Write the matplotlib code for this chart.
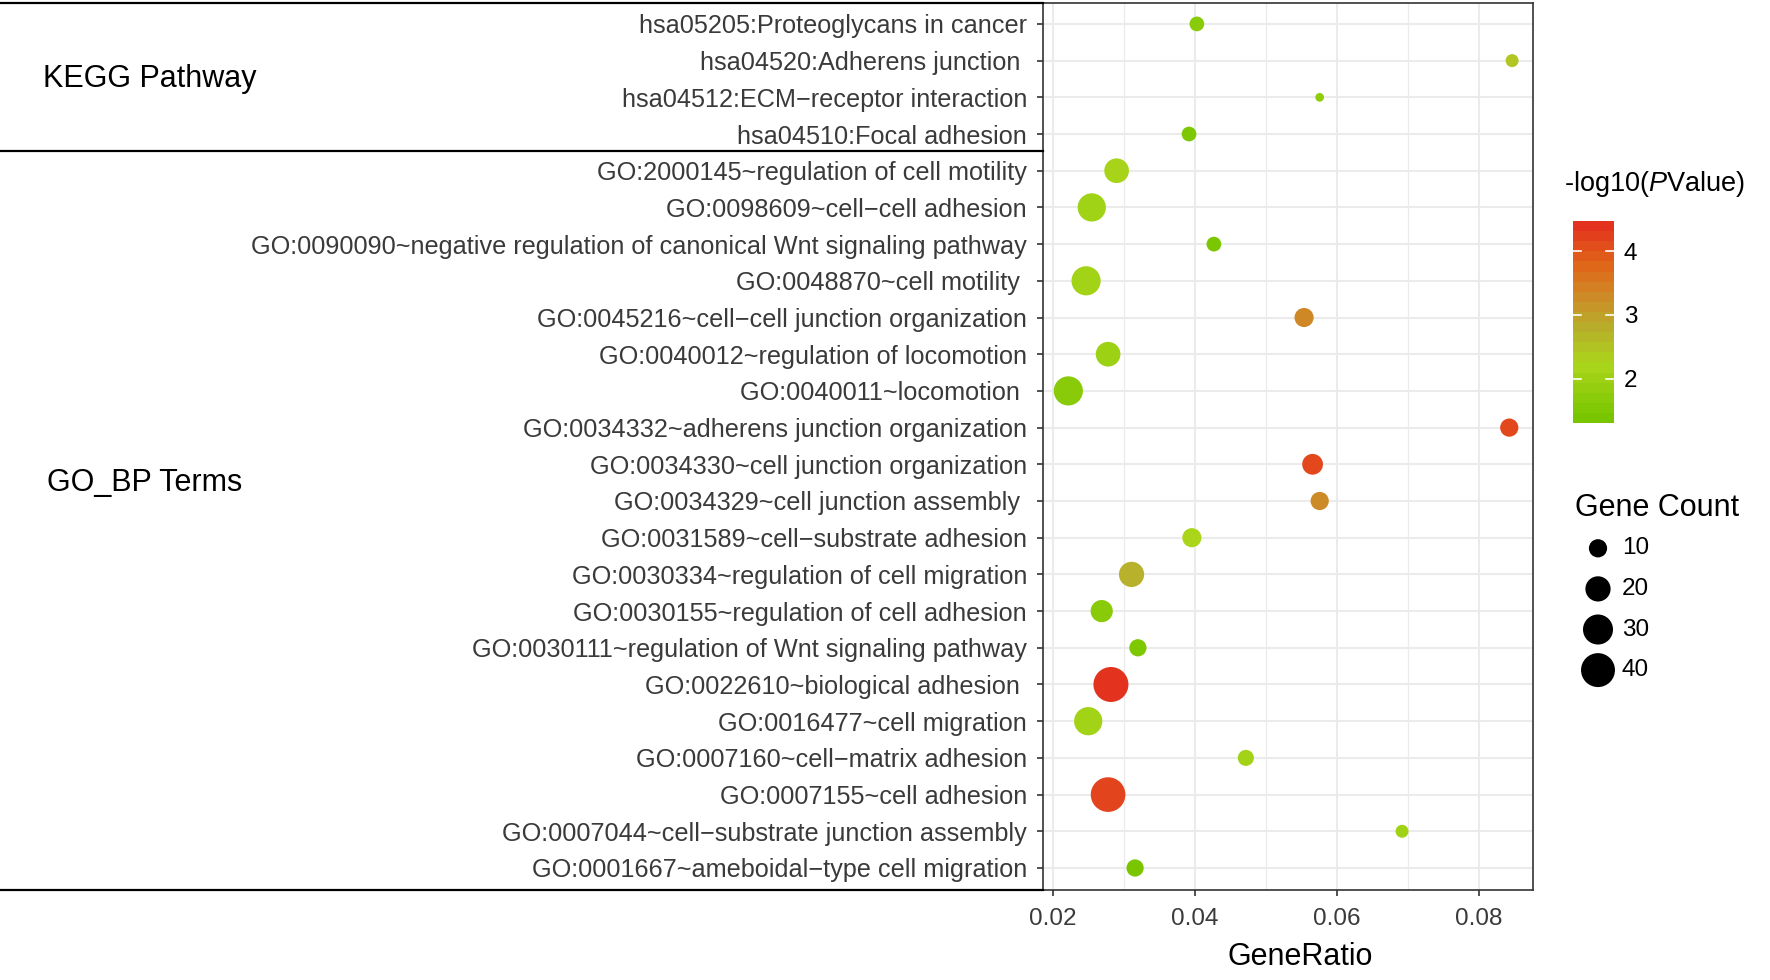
"""
KEGG / GO_BP enrichment bubble chart
GeneRatio vs term, colour = -log10(P), size = gene count
"""
import numpy as np
import matplotlib
matplotlib.use("Agg")
import matplotlib.pyplot as plt
from matplotlib.colors import LinearSegmentedColormap, Normalize
from matplotlib.lines import Line2D
from matplotlib.transforms import blended_transform_factory

plt.rcParams['font.family'] = ['Liberation Sans', 'DejaVu Sans']
plt.rcParams['mathtext.fontset'] = 'custom'
plt.rcParams['mathtext.rm'] = 'Liberation Sans'
plt.rcParams['mathtext.it'] = 'Liberation Sans:italic'

# ============ data (top to bottom) ============
terms = [
    "hsa05205:Proteoglycans in cancer",
    "hsa04520:Adherens junction ",
    "hsa04512:ECM\u2212receptor interaction",
    "hsa04510:Focal adhesion",
    "GO:2000145~regulation of cell motility",
    "GO:0098609~cell\u2212cell adhesion",
    "GO:0090090~negative regulation of canonical Wnt signaling pathway",
    "GO:0048870~cell motility ",
    "GO:0045216~cell\u2212cell junction organization",
    "GO:0040012~regulation of locomotion",
    "GO:0040011~locomotion ",
    "GO:0034332~adherens junction organization",
    "GO:0034330~cell junction organization",
    "GO:0034329~cell junction assembly ",
    "GO:0031589~cell\u2212substrate adhesion",
    "GO:0030334~regulation of cell migration",
    "GO:0030155~regulation of cell adhesion",
    "GO:0030111~regulation of Wnt signaling pathway",
    "GO:0022610~biological adhesion ",
    "GO:0016477~cell migration",
    "GO:0007160~cell\u2212matrix adhesion",
    "GO:0007155~cell adhesion",
    "GO:0007044~cell\u2212substrate junction assembly",
    "GO:0001667~ameboidal\u2212type cell migration",
]
gene_ratio = [0.0403, 0.0847, 0.0576, 0.0392, 0.0290, 0.0255, 0.0427, 0.0247,
              0.0554, 0.0278, 0.0222, 0.0843, 0.0566, 0.0576, 0.0396, 0.0311,
              0.0269, 0.0320, 0.0282, 0.0250, 0.0472, 0.0278, 0.0692, 0.0316]
gene_count = [7, 6, 5, 7, 19, 26, 7, 28, 11, 19, 28, 10,
              13, 10, 11, 20, 15, 9, 43, 26, 8, 42, 6, 9]
neg_log_p = [1.6, 2.45, 1.7, 1.4, 2.1, 2.0, 1.35, 2.05, 3.35, 1.95, 1.6, 4.2,
             4.2, 3.3, 2.15, 2.75, 1.6, 1.4, 4.47, 2.05, 2.05, 4.25, 2.0, 1.31]
n_kegg = 4
group_names = ["KEGG Pathway", "GO_BP Terms"]
group_label_rows = [1.5, 12.5]
group_label_x = [43, 47]

x_ticks = [0.02, 0.04, 0.06, 0.08]
x_minor = [0.03, 0.05, 0.07]
size_breaks = [10, 20, 30, 40]
color_breaks = [2, 3, 4]

# ============ scales ============
W, H = 1770, 980
cmin, cmax = min(gene_count), max(gene_count)


def marker_area(c):
    # ggplot-like area scale: diameter in px, then points^2
    d_px = 8.7 + 26.3 * np.sqrt((np.asarray(c, float) - cmin) / (cmax - cmin))
    return (d_px * 0.72) ** 2


cmap = LinearSegmentedColormap.from_list("pv", [
    (0.0, "#78C500"), (0.28, "#ACD61C"), (0.47, "#B8AE2C"),
    (0.62, "#CC8E28"), (0.8, "#E0661A"), (1.0, "#E3331E")])
vmin, vmax = min(neg_log_p), max(neg_log_p)
norm = Normalize(vmin, vmax)

# ============ main panel ============
fig = plt.figure(figsize=(W / 100, H / 100), dpi=100)
ax = fig.add_axes([1042.7 / W, 90 / H, 490 / W, 887 / H])

y = np.arange(len(terms))
ax.scatter(gene_ratio, y, s=marker_area(gene_count), c=neg_log_p,
           cmap=cmap, norm=norm, linewidths=0, zorder=3)

ax.set_yticks(y)
ax.set_yticklabels(terms)
ax.set_ylim(len(terms) - 0.4, -0.57)
ax.set_xlim(0.01859, 0.0876)
ax.set_xticks(x_ticks)
ax.set_xticklabels([f"{t:.2f}" for t in x_ticks])
ax.set_xticks(x_minor, minor=True)

ax.grid(which='major', color='#EBEBEB', lw=1.5)
ax.grid(which='minor', axis='x', color='#EBEBEB', lw=0.9)
ax.set_axisbelow(True)
ax.tick_params(which='minor', length=0)
ax.tick_params(axis='y', length=4.3, width=1.2, color='#333333', pad=7,
               labelsize=18.2, labelcolor='#3A3A3A')
ax.tick_params(axis='x', length=4.3, width=1.2, color='#333333', pad=9,
               labelsize=17.5, labelcolor='#3A3A3A')
for sp in ax.spines.values():
    sp.set_color('#333333')
    sp.set_linewidth(1.2)
ax.set_xlabel("GeneRatio", fontsize=22, labelpad=8)
ax.xaxis.label.set_x(0.525)

# group separators and labels on the left
trans = blended_transform_factory(fig.transFigure, ax.transData)
left = ax.get_position().x0
for yb in [-0.57, n_kegg - 0.55, len(terms) - 0.4]:
    fig.add_artist(Line2D([0, left], [yb, yb], transform=trans,
                          color='black', lw=1.6))
for name, row, gx in zip(group_names, group_label_rows, group_label_x):
    fig.text(gx / W, row, name, transform=trans, fontsize=22,
             va='center', ha='left')

# ============ colour bar ============
cax = fig.add_axes([1573 / W, 1 - 423 / H, 41 / W, 202 / H])
cax.imshow(np.linspace(vmin, vmax, 20)[:, None], cmap=cmap, norm=norm,
           aspect='auto', origin='lower', extent=[0, 1, vmin, vmax])
cax.set_xlim(0, 1)
cax.set_ylim(vmin, vmax)
cax.set_xticks([])
cax.set_yticks(color_breaks)
cax.yaxis.tick_right()
cax.tick_params(axis='y', length=0, pad=7, labelsize=17.5)
for sp in cax.spines.values():
    sp.set_visible(False)
for b in color_breaks:
    cax.plot([0, 0.2], [b, b], color='white', lw=1.2)
    cax.plot([0.8, 1], [b, b], color='white', lw=1.2)
fig.text(1564 / W, 1 - 184 / H, "-log10($\\mathit{P}$Value)", fontsize=19.5,
         va='center', ha='left')

# ============ size legend ============
kax = fig.add_axes([1575 / W, 1 - 690 / H, 80 / W, 162 / H])
kax.set_xlim(0, 1)
kax.set_ylim(3.49, -0.5)
kax.axis('off')
kax.scatter([0.2875] * len(size_breaks), range(len(size_breaks)),
            s=marker_area(size_breaks), color='black', linewidths=0)
for i, v in enumerate(size_breaks):
    kax.text(0.5875, i, str(v), fontsize=17.5, va='center', ha='left')
fig.text(1575 / W, 1 - 508 / H, "Gene Count", fontsize=22,
         va='center', ha='left')

fig.savefig("out.png", dpi=100)
